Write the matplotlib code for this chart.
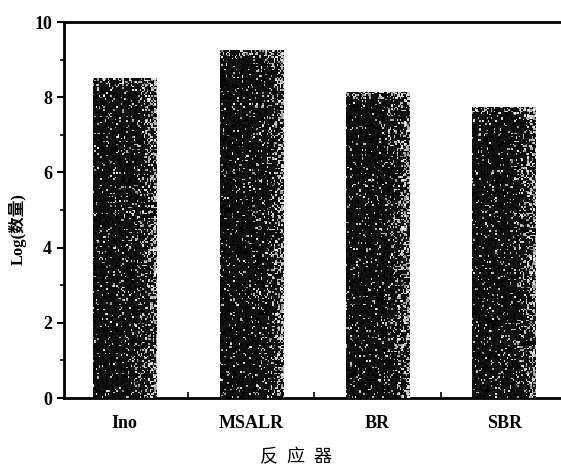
import numpy as np
import matplotlib
matplotlib.use("Agg")
import matplotlib.pyplot as plt
from matplotlib.ticker import MultipleLocator, FixedLocator

# 反应器与对应的 Log(数量)
reactors = ["Ino", "MSALR", "BR", "SBR"]
log_counts = [8.5, 9.25, 8.15, 7.75]

plt.rcParams['font.family'] = ['Liberation Serif', 'Noto Sans CJK SC']

fig = plt.figure(figsize=(5.61, 4.70), dpi=100)
ax = fig.add_axes([0.114, 0.153, 0.886, 0.80])

x = np.arange(len(reactors))
bars = ax.bar(x, log_counts, width=0.5, color="#111111", edgecolor="none", zorder=2)

# 柱子的颗粒纹理：整体偏黑，右侧白点较多
rng = np.random.default_rng(7)
for b in bars:
    h, w = int(b.get_height() * 24), 44
    cols = np.linspace(0, 1, w)
    prob = 0.07 + 0.45 * cols[None, :] ** 6
    prob = np.repeat(prob, h, axis=0)
    prob[-5:, :] += 0.2
    dots = rng.random((h, w)) < prob
    img = np.where(dots, rng.uniform(0.55, 0.95, (h, w)), rng.uniform(0.0, 0.1, (h, w)))
    im = ax.imshow(img, cmap="gray", vmin=0, vmax=1, aspect="auto", origin="lower",
                   extent=[b.get_x(), b.get_x() + b.get_width(), 0, b.get_height()],
                   interpolation="nearest", zorder=3)
    im.set_clip_path(b)

ax.set_xlim(-0.48, 3.45)
ax.set_ylim(0, 10)
ax.set_xticks(x)
ax.set_xticklabels(reactors)
ax.xaxis.set_minor_locator(FixedLocator([0.5, 1.5, 2.5]))
ax.yaxis.set_major_locator(MultipleLocator(2))
ax.yaxis.set_minor_locator(MultipleLocator(1))

ax.tick_params(axis='x', which='major', length=0, pad=12, labelsize=13)
ax.tick_params(axis='x', which='minor', direction='in', length=4, width=1.2)
ax.tick_params(axis='y', which='major', direction='out', length=5, width=1.5, labelsize=13)
ax.tick_params(axis='y', which='minor', direction='out', length=3, width=1.2)
for lab in ax.get_xticklabels() + ax.get_yticklabels():
    lab.set_fontweight('bold')

for side in ['left', 'bottom', 'top']:
    ax.spines[side].set_linewidth(2)
ax.spines['right'].set_visible(False)

ax.set_ylabel("Log(数量)", fontsize=12, fontweight='bold')
ax.yaxis.set_label_coords(-0.075, 0.45)
ax.set_xlabel("反  应  器", fontsize=13)
ax.xaxis.set_label_coords(0.467, -0.135)

fig.savefig("out.png", dpi=100)
